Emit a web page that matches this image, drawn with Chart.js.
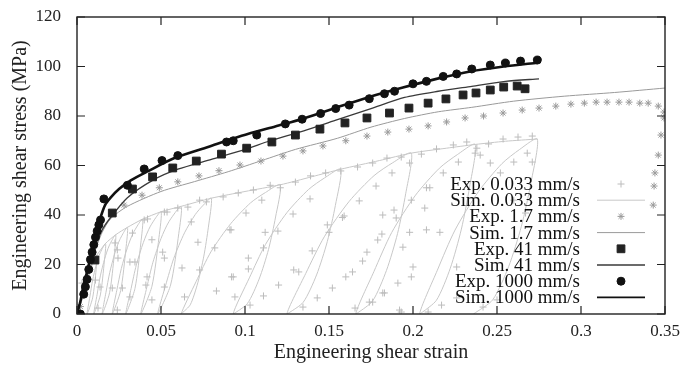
<!DOCTYPE html>
<html>
<head>
<meta charset="utf-8">
<script src="https://cdn.jsdelivr.net/npm/chart.js@4.4.1/dist/chart.umd.min.js"></script>
<style>
  html, body { margin: 0; padding: 0; background: #fff; }
  #wrap { width: 697px; height: 366px; }
</style>
</head>
<body>
<div id="wrap"><canvas id="chart"></canvas></div>
<script>
// strain / stress pairs
const exp1000 = [[0,0],[0.002,0],[0.004,8],[0.005,11],[0.006,14],[0.007,18],[0.008,22],[0.009,25],[0.010,28],
  [0.011,31],[0.012,33.5],[0.013,36],[0.014,38],[0.016,46.5],[0.030,52],[0.040,58.6],[0.0506,62],[0.060,64],
  [0.089,69.5],[0.093,70],[0.107,72.3],[0.124,76.8],[0.134,78.7],[0.145,81],[0.154,83],[0.162,84.4],[0.174,87],
  [0.183,89],[0.189,90],[0.2,93],[0.208,94],[0.218,96],[0.226,97],[0.235,99],[0.246,100.6],[0.255,101.4],
  [0.264,102.2],[0.274,102.6]];
const sim1000 = [[0,0],[0.002,5],[0.004,12],[0.006,17],[0.008,23],[0.011,32],[0.014,39],[0.0167,44],[0.02,47],
  [0.025,50.5],[0.032,54],[0.042,57.6],[0.058,63],[0.078,67.5],[0.098,72],[0.118,75.8],[0.135,79],[0.155,83.5],
  [0.174,87.7],[0.194,91.5],[0.214,95],[0.234,98],[0.254,100],[0.274,101.5]];
const exp41 = [[0.0107,21.8],[0.021,40.8],[0.033,50.5],[0.045,55.4],[0.057,59],[0.071,61.8],[0.086,64.6],
  [0.101,67],[0.116,69.5],[0.130,72.3],[0.1446,74.7],[0.1595,77.2],[0.1726,79.2],[0.186,81.2],[0.1976,83.2],
  [0.209,85.2],[0.2196,86.9],[0.2298,88.5],[0.2375,89.3],[0.246,90.5],[0.254,91.7],[0.262,92.1],[0.2667,91]];
const sim41 = [[0,0],[0.005,13],[0.01,26],[0.015,34],[0.02,39],[0.03,47],[0.045,54],[0.06,58.5],[0.08,62.5],
  [0.1,66.5],[0.115,70],[0.135,74],[0.155,78.5],[0.175,83],[0.195,87.5],[0.215,90],[0.235,92],[0.255,94],[0.275,95]];
const exp17 = [[0.002,3],[0.0280,44],[0.0387,48],[0.049,51],[0.060,53.4],[0.0726,55.8],[0.0845,57.9],[0.097,60.2],
  [0.1095,61.8],[0.1226,63.8],[0.1345,65.9],[0.1464,67.9],[0.160,70],[0.1726,71.9],[0.185,73.5],[0.1976,74.7],
  [0.209,76],[0.220,77.6],[0.231,79.2],[0.242,80],[0.2536,81.2],[0.265,82.4],[0.275,83.2],[0.285,84],[0.294,84.8],
  [0.302,85.2],[0.309,85.6],[0.3155,85.6],[0.3226,85.6],[0.3286,85.6],[0.335,85.2],[0.340,85.2],[0.346,84],
  [0.3494,81.6],[0.3494,79.2],[0.3476,72.3],[0.346,64.2],[0.344,57],[0.3435,51.7],[0.343,44]];
const sim17 = [[0,0],[0.005,10],[0.01,24],[0.015,33],[0.02,38.5],[0.03,43.5],[0.05,49.5],[0.07,53.5],[0.09,57.5],
  [0.11,62],[0.13,66.5],[0.155,71],[0.175,75.5],[0.195,79],[0.215,81.7],[0.235,83.5],[0.26,86],[0.29,88],
  [0.32,89.5],[0.35,91.3]];
// 0.033 mm/s: loading-unloading cycles
const exp0033 = [[0,3.6],[0.003,12.5],[0.011,13.7],[0.0137,10.9],[0.0125,2.4],[0.021,10.5],[0.0226,28.7],[0.024,25.9],
  [0.0244,22.6],[0.024,1.6],[0.027,10.5],[0.0315,21],[0.0345,21],[0.0315,6.9],[0.033,32.7],[0.040,38],[0.042,38.4],
  [0.0417,15],[0.041,11.7],[0.0446,5.7],[0.0446,30],[0.051,25],[0.052,22.6],[0.052,10.9],[0.052,41.2],[0.0536,41.2],
  [0.060,42.8],[0.0625,18.6],[0.064,6.9],[0.066,43.2],[0.068,37.2],[0.072,29],[0.073,17.8],[0.073,46],[0.077,45.3],
  [0.082,26.7],[0.083,9.3],[0.087,47.3],[0.091,34],[0.092,15],[0.0917,34],[0.093,15],[0.094,6.9],[0.096,48.9],
  [0.1006,40.8],[0.102,22.6],[0.102,18.2],[0.103,3.6],[0.105,50.1],[0.110,46],[0.111,26.7],[0.111,7.3],[0.112,33],
  [0.115,52],[0.1196,33.5],[0.120,11.7],[0.121,51],[0.1286,40.4],[0.129,17.8],[0.13,53.3],[0.132,17],[0.1345,2.8],
  [0.1387,46.5],[0.139,55.8],[0.140,25.5],[0.143,6.5],[0.148,57],[0.149,36],[0.150,33],[0.152,10.5],[0.157,57.8],
  [0.158,39],[0.159,39.6],[0.160,15],[0.164,17],[0.1655,2.4],[0.167,59.4],[0.168,45.7],[0.170,21.4],[0.1726,25],
  [0.174,4.8],[0.176,61],[0.176,4.8],[0.178,51.7],[0.179,29.9],[0.1815,32.3],[0.182,40],[0.182,8.5],[0.183,8.5],
  [0.1845,63],[0.1875,57],[0.1887,42],[0.190,38.8],[0.191,12.5],[0.192,1.6],[0.193,63.4],[0.193,0.8],[0.194,27],
  [0.198,61],[0.198,33],[0.199,46],[0.199,15],[0.2,19],[0.205,64.6],[0.207,42.8],[0.208,51],[0.208,34],[0.209,0.8],
  [0.21,51],[0.214,66.7],[0.216,33],[0.217,3.6],[0.218,57],[0.224,68.3],[0.226,6.5],[0.226,19],[0.227,61.4],
  [0.232,69.5],[0.237,65],[0.238,67],[0.240,64.2],[0.2417,2.8],[0.245,68.7],[0.246,61],[0.25,5.7],[0.252,57],
  [0.2536,70.7],[0.26,61.4],[0.26,46],[0.2625,71.5],[0.267,40.8],[0.268,65],[0.271,61.4],[0.271,71.9]];
const sim0033Cycles = [[0,0],[0.004,10],[0.008,18],[0.012,24],[0.0114,18],[0.0093,6.5],[0.006,0],
  [0.0077,7.1],[0.0093,13.7],[0.0115,20],[0.0137,24.5],[0.017,28.5],[0.0163,21.4],[0.0139,7.7],[0.010,0],
  [0.0120,8],[0.0139,15.4],[0.0165,22.4],[0.0191,27.5],[0.023,32],[0.0222,24],[0.0194,8.6],[0.015,0],
  [0.01725,8.75],[0.0195,16.8],[0.0225,24.5],[0.0255,30.1],[0.030,35],[0.0291,26.3],[0.026,9.5],[0.021,0],
  [0.0237,9.6],[0.0264,18.4],[0.030,26.8],[0.0336,32.9],[0.039,38.3],[0.038,28.7],[0.0345,10.3],[0.029,0],
  [0.0322,10.3],[0.0353,19.8],[0.0395,28.9],[0.0437,35.5],[0.050,41.3],[0.0488,31],[0.0446,11.2],[0.038,0],
  [0.0416,10.9],[0.0452,20.9],[0.050,30.5],[0.0548,37.4],[0.062,43.5],[0.0606,32.6],[0.0557,11.7],[0.048,0],
  [0.0528,11.7],[0.0576,22.5],[0.064,32.8],[0.0704,40.2],[0.0752,44],[0.080,46.8],[0.0782,35.1],[0.0755,23.4],
  [0.0719,12.6],[0.0674,3.7],[0.062,0],
  [0.0709,13.1],[0.0797,25.1],[0.0915,36.5],[0.1033,44.9],[0.1122,49.1],[0.121,52.2],[0.1182,39.2],[0.114,26.1],
  [0.1084,14.1],[0.1014,4.2],[0.093,0],
  [0.1026,14.6],[0.1122,28.1],[0.125,41],[0.1378,50.3],[0.1474,55],[0.157,58.5],[0.1538,43.9],[0.149,29.3],
  [0.1426,15.8],[0.1346,4.7],[0.125,0],
  [0.1361,16.3],[0.1472,31.2],[0.162,45.5],[0.1768,55.9],[0.1879,61.1],[0.199,65],[0.1957,48.8],[0.1908,32.5],
  [0.1842,17.6],[0.1759,5.2],[0.166,0],
  [0.1767,17.1],[0.1873,32.9],[0.2015,48],[0.2157,58.9],[0.2264,64.4],[0.237,68.5],[0.2337,51.4],[0.2288,34.3],
  [0.2222,18.5],[0.2139,5.5],[0.204,0],
  [0.2145,17.7],[0.225,33.9],[0.239,49.5],[0.253,60.8],[0.2635,66.5],[0.274,70.7],[0.2702,53],[0.2645,35.4],
  [0.2569,19.1],[0.2474,5.7],[0.236,0]];
const sim0033Envelope = [[0.012,24],[0.017,28.5],[0.023,32],[0.030,35],[0.039,38.3],[0.050,41.3],[0.062,43.5],
  [0.080,46.8],[0.100,49.5],[0.121,52.2],[0.140,55.5],[0.157,58.5],[0.18,62],[0.199,65],[0.22,67],[0.237,68.5],
  [0.255,69.8],[0.274,70.7]];

const legendLabels = ['Exp. 0.033 mm/s', 'Sim. 0.033 mm/s', 'Exp. 1.7 mm/s', 'Sim. 1.7 mm/s',
  'Exp. 41 mm/s', 'Sim. 41 mm/s', 'Exp. 1000 mm/s', 'Sim. 1000 mm/s'];
const xTicks = [0, 0.05, 0.1, 0.15, 0.2, 0.25, 0.3, 0.35];
const yTicks = [0, 20, 40, 60, 80, 100, 120];

const serif = "'Liberation Serif', 'Times New Roman', serif";
const toXY = arr => arr.map(p => ({ x: p[0], y: p[1] }));

function marks(label, data, style, radius, color, order) {
  return { label, data: toXY(data), showLine: false, pointStyle: style, pointRadius: radius,
    pointHoverRadius: radius, pointBorderWidth: 1, borderColor: color, backgroundColor: color,
    pointBackgroundColor: color, pointBorderColor: color, order };
}
function curve(label, data, color, width, order) {
  return { label, data: toXY(data), showLine: true, pointRadius: 0, borderColor: color,
    backgroundColor: color, borderWidth: width, tension: 0.25, order };
}

const datasets = [
  marks(legendLabels[0], exp0033, 'cross', 3.5, '#bcbcbc', 7),
  curve(legendLabels[1], sim0033Cycles, '#c8c8c8', 1, 8),
  marks(legendLabels[2], exp17, 'star', 3.5, '#9a9a9a', 5),
  curve(legendLabels[3], sim17, '#9a9a9a', 1, 6),
  marks(legendLabels[4], exp41, 'rect', 5.5, '#222222', 3),
  curve(legendLabels[5], sim41, '#3a3a3a', 1.3, 4),
  marks(legendLabels[6], exp1000, 'circle', 4, '#111111', 1),
  curve(legendLabels[7], sim1000, '#111111', 2.6, 2),
  curve('', sim0033Envelope, '#c8c8c8', 1, 9)
];

// gnuplot style frame with inward ticks on all four sides
const framePlugin = {
  id: 'frame',
  afterDraw(chart) {
    const { ctx, chartArea: a, scales } = chart;
    ctx.save();
    ctx.strokeStyle = '#222';
    ctx.lineWidth = 1.4;
    ctx.strokeRect(a.left, a.top, a.right - a.left, a.bottom - a.top);
    ctx.lineWidth = 1.2;
    ctx.beginPath();
    xTicks.forEach(v => {
      const px = scales.x.getPixelForValue(v);
      ctx.moveTo(px, a.bottom); ctx.lineTo(px, a.bottom - 8);
      ctx.moveTo(px, a.top); ctx.lineTo(px, a.top + 8);
    });
    yTicks.forEach(v => {
      const py = scales.y.getPixelForValue(v);
      ctx.moveTo(a.left, py); ctx.lineTo(a.left + 8, py);
      ctx.moveTo(a.right, py); ctx.lineTo(a.right - 8, py);
    });
    ctx.stroke();
    ctx.restore();
  }
};

// key inside the lower right corner: text right aligned, sample to its right
const keyPlugin = {
  id: 'key',
  afterDraw(chart) {
    const { ctx, chartArea: a } = chart;
    const textRight = a.right - 85;
    const sampleX = a.right - 44;
    const rowH = 16.2;
    const top = a.bottom - 130;
    ctx.save();
    ctx.font = '19px ' + serif;
    ctx.textAlign = 'right';
    ctx.textBaseline = 'middle';
    legendLabels.forEach((txt, i) => {
      const ds = chart.data.datasets[i];
      const y = top + i * rowH;
      ctx.fillStyle = '#111';
      ctx.fillText(txt, textRight, y + 1);
      ctx.strokeStyle = ds.borderColor;
      ctx.fillStyle = ds.borderColor;
      if (ds.showLine) {
        ctx.lineWidth = Math.min(ds.borderWidth, 1.6);
        ctx.beginPath();
        ctx.moveTo(sampleX - 24, y); ctx.lineTo(sampleX + 24, y);
        ctx.stroke();
      } else {
        ctx.lineWidth = 1;
        Chart.helpers.drawPoint(ctx, { pointStyle: ds.pointStyle, radius: ds.pointRadius, rotation: 0,
          borderWidth: 1 }, sampleX, y);
      }
    });
    ctx.restore();
  }
};

new Chart(document.getElementById('chart'), {
  type: 'scatter',
  data: { datasets },
  options: {
    responsive: true,
    maintainAspectRatio: false,
    animation: false,
    layout: { padding: { top: 17, right: 32, left: 0, bottom: 0 } },
    plugins: { legend: { display: false }, tooltip: { enabled: false } },
    scales: {
      x: {
        type: 'linear', min: 0, max: 0.35,
        afterFit: s => { s.height = 52; s.paddingLeft = 0; s.paddingRight = 0; },
        afterBuildTicks: s => { s.ticks = xTicks.map(v => ({ value: v })); },
        grid: { display: false, drawTicks: false },
        border: { display: false },
        ticks: { padding: 7, color: '#222', font: { family: serif, size: 17 },
          callback: v => String(Number(v.toFixed(2))) },
        title: { display: true, text: 'Engineering shear strain', color: '#222',
          font: { family: serif, size: 20 }, padding: { top: 0, bottom: 1 } }
      },
      y: {
        type: 'linear', min: 0, max: 120,
        afterFit: s => { s.width = 77; s.paddingTop = 0; s.paddingBottom = 0; },
        afterBuildTicks: s => { s.ticks = yTicks.map(v => ({ value: v })); },
        grid: { display: false, drawTicks: false },
        border: { display: false },
        ticks: { padding: 16, color: '#222', font: { family: serif, size: 17 } },
        title: { display: true, text: 'Engineering shear stress (MPa)', color: '#222',
          font: { family: serif, size: 20 }, padding: { top: 9, bottom: 0 } }
      }
    }
  },
  plugins: [framePlugin, keyPlugin]
});
</script>
</body>
</html>
